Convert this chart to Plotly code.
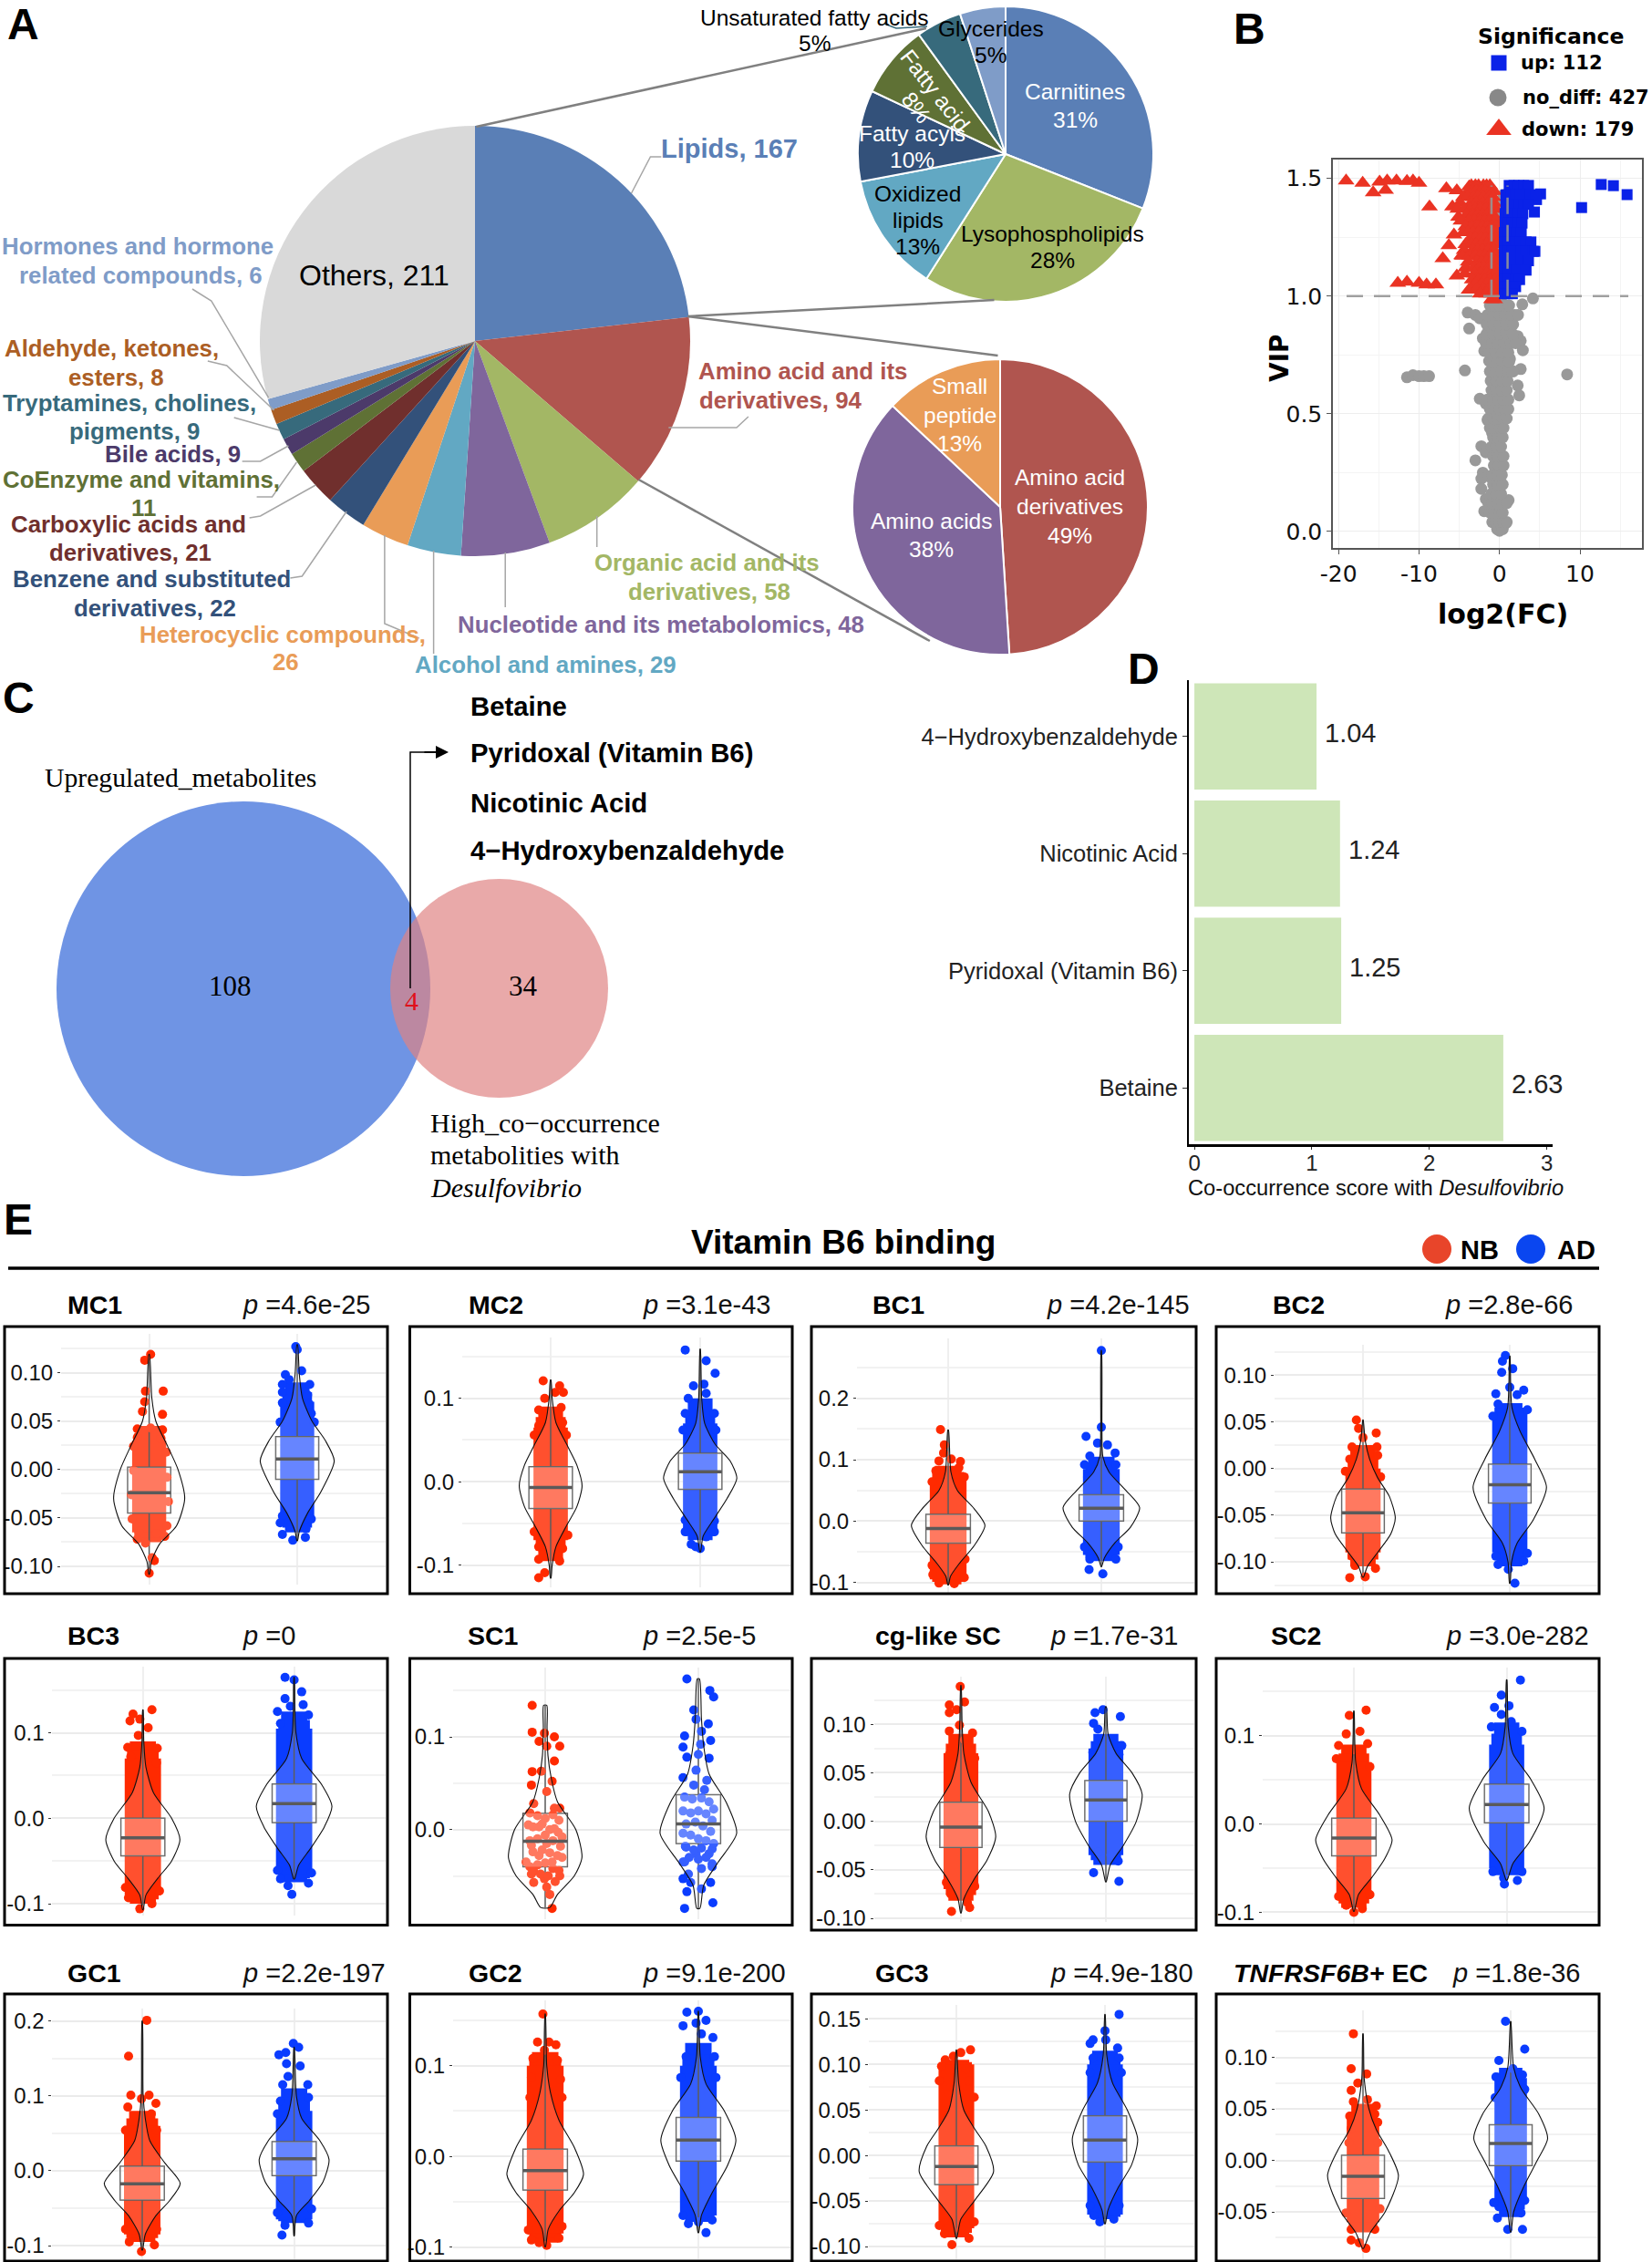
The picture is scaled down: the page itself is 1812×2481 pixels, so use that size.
import plotly.graph_objects as go

W, H = 1812, 2481
SANS = "Liberation Sans"
SERIF = "Liberation Serif"
DEJA = "DejaVu Sans"

# ---------- Panel A ----------
MAIN_LABELS = ["Lipids", "Amino acid and its derivatives", "Organic acid and its derivatives",
               "Nucleotide and its metabolomics", "Alcohol and amines", "Heterocyclic compounds",
               "Benzene and substituted derivatives", "Carboxylic acids and derivatives",
               "CoEnzyme and vitamins", "Bile acids", "Tryptamines, cholines, pigments",
               "Aldehyde, ketones, esters", "Hormones and hormone related compounds", "Others"]
MAIN_VALUES = [167, 94, 58, 48, 29, 26, 22, 21, 11, 9, 9, 8, 6, 211]
MAIN_COLORS = ["#5A7FB6", "#B0554F", "#A3B765", "#7F669C", "#62A8C3", "#E99C57", "#33517A", "#702F2D",
               "#5F7135", "#4C3A6A", "#376A7C", "#AC5E24", "#7F9CC8", "#D9D9D9"]
LIPID_LABELS = ["Carnitines", "Lysophospholipids", "Oxidized lipids", "Fatty acyls", "Fatty acid",
                "Unsaturated fatty acids", "Glycerides"]
LIPID_VALUES = [31, 28, 13, 10, 8, 5, 5]
LIPID_COLORS = ["#5A7FB6", "#A3B765", "#62A8C3", "#33517A", "#5F7135", "#376A7C", "#7F9CC8"]
AMINO_LABELS = ["Amino acid derivatives", "Amino acids", "Small peptide"]
AMINO_VALUES = [49, 38, 13]
AMINO_COLORS = ["#B0554F", "#7F669C", "#E99C57"]

# ---------- Panel B ----------
UP_POINTS = [(12.64, 1.474), (14.15, 1.469), (15.85, 1.431), (10.2, 1.376), (4.34, 1.357), (5.1, 1.434), (4.6, 1.41)]
UP_ROW_Y = [1.47, 1.43, 1.39, 1.35, 1.31, 1.27, 1.23, 1.19, 1.15, 1.11, 1.07, 1.04, 1.01]
UP_ROW_X = [[1.2, 1.8, 2.4, 3, 3.6], [.8, 1.4, 2, 2.6, 3.2, 3.8, 4.5], [.8, 1.3, 1.9, 2.5, 3, 3.6],
            [.7, 1.2, 1.7, 2.3, 2.9], [.7, 1.1, 1.6, 2.2, 2.8], [.6, 1.1, 1.6, 2.1, 2.7],
            [.6, 1, 1.5, 2, 2.6, 3.3, 3.9], [.6, 1.1, 1.6, 2.7, 3.3, 4.2, 4.4], [.6, 1.1, 1.6, 2.7, 3.6],
            [.6, 1, 1.5, 2.1, 3.3], [.6, 1, 1.5, 2, 2.5], [.6, 1, 1.6, 2], [.6, 1, 1.6]]
DOWN_POINTS = [(-19.06, 1.49), (-17, 1.48), (-15.7, 1.44), (-14.9, 1.485), (-13.96, 1.49), (-12.8, 1.49),
               (-14.15, 1.45), (-11.5, 1.488), (-10.75, 1.49), (-10, 1.48), (-8.7, 1.38), (-5.66, 1.26),
               (-6.3, 1.215), (-7.05, 1.16), (-6.6, 1.457), (-5.3, 1.448), (-3.77, 1.465), (-5.85, 1.38),
               (-5.1, 1.336), (-12.64, 1.055), (-11.5, 1.06), (-10, 1.055), (-9.06, 1.048), (-7.9, 1.048),
               (-5.3, 1.086), (-4.3, 1.095), (-3.8, 1.026), (-4.7, 1.172), (-1, .985), (-.6, .985)]
DOWN_ROW_Y = [1.47, 1.445, 1.42, 1.395, 1.37, 1.345, 1.32, 1.295, 1.27, 1.245, 1.22, 1.195, 1.17, 1.145, 1.12, 1.095, 1.07, 1.05, 1.03, 1.01]
DOWN_ROW_X = [[-3.5, -3, -2.6, -2, -1.6, -1.2], [-3.8, -3.3, -2.9, -2.3, -1.8, -1.1, -.7], [-4.5, -4, -3.2, -2.7, -2, -1.3, -.8],
              [-4.9, -3.5, -2.9, -2.1, -1.4, -.7], [-5.2, -4.3, -3.6, -3, -2.4, -1.7, -1, -.5], [-4.1, -3.3, -2.7, -2.1, -1.5, -.8],
              [-4.8, -3.8, -3.1, -2.4, -1.8, -1.2, -.5], [-4.2, -3.4, -2.7, -2.1, -1.5, -.9, -.4],
              [-4.5, -3.9, -3.3, -2.6, -2, -1.4, -.6], [-3.6, -3, -2.3, -1.7, -1.1, -.5],
              [-4.2, -3.5, -2.9, -2.3, -1.6, -1, -.4], [-4.4, -3.3, -2.7, -2.1, -1.4, -.7],
              [-4.6, -3.7, -3, -2.4, -1.8, -1.2, -.5], [-3.9, -2.8, -2.2, -1.6, -1, -.4],
              [-4.2, -3.2, -2.5, -1.9, -1.3, -.6], [-3.1, -2.3, -1.6, -1, -.5],
              [-3.4, -2.6, -1.8, -1.2, -.5], [-3, -2.2, -1.5, -.9, -.4], [-3.6, -2.8, -2, -1.3, -.6], [-2.4, -1.6, -1, -.5]]
NODIFF_POINTS = [(4.15, .99), (2.83, .965), (1.9, .92), (-3.96, .93), (-3, .92), (-2.45, .905), (-3.77, .862),
                 (-2.07, .82), (2.26, .83), (2.64, .81), (2.9, .77), (-1.9, .767), (-1.3, .724), (1.3, .733),
                 (-11.5, .655), (-10.75, .664), (-10, .66), (-9.4, .66), (-8.75, .66), (-4.3, .684), (8.4, .667),
                 (2.64, .69), (1.7, .68), (2.26, .62), (2.45, .578), (-2.45, .564), (-1.7, .543), (-1.5, .474),
                 (-.94, .42), (-2.26, .362), (-1.7, .336), (-3, .302), (-2.07, .25), (-2.26, .224), (-1.3, .233),
                 (-2.26, .181), (-1.7, .138), (1.13, .133), (-1.9, .086), (.4, .043), (-.57, .034), (.75, .034), (0, .003)]
NODIFF_ROW_Y = [.01, .04, .08, .12, .16, .2, .24, .28, .32, .36, .4, .44, .48, .52, .56, .6, .64, .68, .72, .76,
                .8, .84, .88, .92, .96, .99, 1.05, 1.1, 1.15, 1.2, 1.25, 1.3, 1.35, 1.39, 1.43]
NODIFF_ROW_X = [[0, -.3, .4], [-.9, -.5, 0, .5, .9], [-1.2, -.6, 0, .4], [-1.4, -.9, -.3, .3, .9], [-1, -.4, .2],
                [-.8, -.2, .4], [-.9, -.3, .3], [-.7, -.1, .5], [-.8, -.2, .5], [-1, -.4, .2], [-.8, -.2, .4],
                [-1.2, -.6, 0, .5], [-1.4, -.8, -.2, .4, .9], [-1.2, -.6, 0, .6, 1.1], [-1.5, -.8, -.1, .5, 1.1],
                [-1, -.4, .2, .9], [-1.1, -.4, .3, 1], [-1.2, -.5, .2, 1, 1.6], [-1, -.3, .4, 1.2],
                [-1.3, -.5, .3, 1.1], [-1.7, -.9, -.2, .6, 1.4, 2], [-1.6, -.8, 0, .8, 1.6],
                [-1.6, -.8, 0, .8, 1.7], [-1.5, -.8, 0, .7, 1.5, 2.3], [-1.2, -.6, 0, .6, 1.2], [-.2, .2],
                [0, .3], [-.1, .25], [-.2, .2], [-.3, .1], [-.2, .2], [-.2, .1], [0], [-.4], [.5]]

# ---------- Panel D ----------
D_NAMES = ["Betaine", "Pyridoxal (Vitamin B6)", "Nicotinic Acid", "4\u2212Hydroxybenzaldehyde"]
D_SCORES = [2.63, 1.25, 1.24, 1.04]
D_TEXT = ["2.63", "1.25", "1.24", "1.04"]

# ---------- Panel E ----------
E_NAMES = ["MC1", "MC2", "BC1", "BC2", "BC3", "SC1", "cg-like SC", "SC2", "GC1", "GC2", "GC3", "<i>TNFRSF6B+</i> EC"]
E_P = ["4.6e-25", "3.1e-43", "4.2e-145", "2.8e-66", "0", "2.5e-5", "1.7e-31", "3.0e-282", "2.2e-197", "9.1e-200", "4.9e-180", "1.8e-36"]
TICK2 = ["0.10", "0.05", "0.00", "-0.05", "-0.10"]
E_TICK_TEXT = [TICK2, ["0.1", "0.0", "-0.1"], ["0.2", "0.1", "0.0", "-0.1"], TICK2,
               ["0.1", "0.0", "-0.1"], ["0.1", "0.0"], ["0.15"] + TICK2, ["0.1", "0.0", "-0.1"],
               ["0.2", "0.1", "0.0", "-0.1"], ["0.1", "0.0", "-0.1"], ["0.15"] + TICK2, TICK2[:4]]

NB_Q = [(-.045, -.024, .0025), (-.032, -.007, .018), (-.036, -.012, .011), (-.069, -.0475, -.022),
        (-.044, -.023, 0), (-.04, -.0125, .0175), (-.027, -.006, .0195), (-.036, -.016, .0065),
        (-.039, -.0175, .006), (-.037, -.0155, .008), (-.032, -.012, .0105), (-.037, -.0155, .005)]
AD_Q = [(-.01, .011, .034), (-.009, .012, .034), (0, .021, .043), (-.037, -.0175, .0045),
        (-.005, .017, .04), (-.015, .006, .0375), (0, .022, .042), (.0015, .022, .045),
        (-.0066, .016, .039), (-.005, .018, .043), (-.007, .017, .0435), (-.005, .0165, .0345)]
NB_VIOLIN_Y = [
    [-.108, -.095, -.077, -.058, -.03, 0, .024, .05, .074, .119],
    [-.1155, -.1, -.078, -.053, -.03, -.005, .02, .042, .071, .1, .122],
    [-.104, -.09, -.07, -.04, -.007, .02, .05, .08, .1485],
    [-.1165, -.105, -.09, -.07, -.053, -.03, -.01, .01, .03, .052],
    [-.107, -.09, -.07, -.05, -.025, 0, .03, .06, .09, .127],
    [-.084, -.07, -.05, -.03, 0, .03, .055, .08, .11, .134],
    [-.0945, -.08, -.06, -.04, -.016, .01, .04, .07, .1, .14],
    [-.099, -.08, -.06, -.04, -.018, .01, .04, .07, .1, .128],
    [-.106, -.085, -.06, -.04, -.017, .01, .04, .07, .1, .2],
    [-.0995, -.08, -.06, -.04, -.02, .01, .04, .07, .1, .157],
    [-.091, -.07, -.05, -.018, .01, .03, .05, .08, .116],
    [-.0855, -.07, -.05, -.015, .01, .03, .05, .08, .123]]
NB_VIOLIN_W = [
    [.002, .015, .07, .185, .24, .195, .125, .045, .018, .002],
    [.002, .01, .035, .105, .175, .21, .175, .115, .035, .01, .002],
    [.002, .015, .07, .17, .24, .17, .06, .018, .002],
    [.003, .03, .1, .19, .22, .18, .1, .045, .015, .001],
    [.002, .02, .1, .19, .245, .19, .07, .02, .006, .001],
    [.03, .08, .19, .24, .2, .08, .04, .018, .012, .01],
    [.002, .02, .09, .18, .24, .19, .07, .02, .008, .001],
    [.002, .03, .12, .2, .25, .17, .05, .012, .005, .001],
    [.002, .02, .09, .18, .25, .15, .05, .02, .006, .001],
    [.002, .02, .09, .19, .25, .19, .09, .035, .01, .001],
    [.002, .03, .12, .25, .2, .12, .05, .015, .001],
    [.003, .05, .15, .24, .17, .09, .04, .008, .001]]
AD_VIOLIN_Y = [
    [-.0735, -.064, -.045, -.023, .009, .03, .05, .074, .099, .129],
    [-.084, -.065, -.045, -.02, .004, .025, .045, .07, .1, .159],
    [-.074, -.06, -.035, -.01, .022, .05, .08, .105, .15, .278],
    [-.123, -.1, -.08, -.055, -.02, .01, .04, .065, .09, .1205],
    [-.071, -.055, -.035, -.01, .014, .04, .07, .1, .13, .165],
    [-.085, -.06, -.035, -.004, .03, .06, .09, .12, .1625],
    [-.0625, -.045, -.025, 0, .028, .05, .07, .09, .118],
    [-.0635, -.045, -.02, .018, .05, .08, .11, .1635],
    [-.087, -.06, -.04, -.015, .015, .04, .07, .1, .165],
    [-.084, -.065, -.04, -.01, .018, .05, .08, .11, .16],
    [-.075, -.06, -.035, -.01, .018, .05, .08, .11, .155],
    [-.0695, -.05, -.025, 0, .021, .045, .07, .09, .135]]
AD_VIOLIN_W = [
    [.002, .014, .07, .16, .25, .19, .1, .035, .014, .002],
    [.002, .02, .09, .18, .245, .2, .1, .03, .01, .001],
    [.002, .02, .09, .19, .25, .16, .05, .01, .004, .001],
    [.002, .012, .05, .16, .25, .17, .07, .015, .006, .001],
    [.003, .03, .11, .2, .25, .18, .05, .012, .005, .001],
    [.01, .035, .13, .25, .18, .07, .035, .02, .007],
    [.002, .03, .12, .21, .25, .18, .07, .015, .003],
    [.003, .04, .15, .245, .16, .04, .01, .001],
    [.001, .015, .1, .19, .23, .17, .05, .015, .001],
    [.002, .02, .09, .19, .245, .17, .05, .012, .001],
    [.002, .02, .09, .18, .22, .15, .05, .012, .001],
    [.002, .02, .09, .18, .25, .19, .07, .02, .001]]
NB_BAND = [(-.065, .03), (-.07, .065), (-.095, .07), (-.09, 0), (-.09, .07), (-.05, -.05),
           (-.07, .07), (-.085, .07), (-.085, .06), (-.085, .1), (-.08, .1), (-.06, .04)]
AD_BAND = [(-.055, .07), (-.06, .07), (-.055, .085), (-.09, .06), (-.065, .105), (-.03, -.03),
           (-.035, .075), (-.05, .09), (-.065, .08), (-.065, .1), (-.065, .1), (-.04, .08)]
NB_TAPER = [(-.075, .045), (-.095, .09), (-.103, .09), (-.105, .025), (-.1, .09), (-.05, -.05),
            (-.082, .09), (-.095, .09), (-.095, .08), (-.095, .115), (-.09, .105), (-.07, .055)]
AD_TAPER = [(-.065, .09), (-.07, .1), (-.065, .105), (-.105, .07), (-.075, .125), (-.03, -.03),
            (-.045, .09), (-.058, .115), (-.07, .11), (-.072, .125), (-.07, .115), (-.055, .09)]
BAND_WIDTH = [.23, .23, .24, .24, .24, .22, .24, .23, .24, .24, .24, .22]

MC1_NB = [(.01, .119), (-.03, .113), (-.025, .081), (.095, .081), (-.03, .07), (-.045, .06), (.09, .057), (-.08, .042), (.01, .043), (.09, .041), (.08, .032), (-.08, .033), (.035, -.094), (0, -.107), (.02, -.091), (-.08, -.072), (.105, -.069), (-.025, -.076), (-.105, .024), (.115, .018), (-.105, -.001), (.12, -.008), (-.12, -.026), (.13, -.033), (-.115, -.051), (.12, -.058), (-.07, -.064), (.05, -.066)]
MC1_AD = [(-.01, .127), (0, .124), (.03, .102), (-.08, .098), (-.055, .093), (-.1, .088), (.085, .088), (-.1, .08), (.07, .077), (-.1, .069), (.08, .068), (.095, .058), (-.115, .049), (.115, .049), (-.1, -.048), (.095, -.051), (-.1, -.067), (.055, -.07), (-.03, -.073), (.06, -.061), (-.115, -.055)]
MC2_NB = [(-.05, .121), (.06, .115), (.085, .107), (.03, .107), (-.04, .1), (-.08, .086), (.07, .089), (-.08, .067), (.08, .071), (-.11, .056), (.105, .056), (-.08, -.078), (.08, -.08), (-.08, -.093), (.06, -.095), (-.04, -.109), (-.08, -.115), (-.11, -.06), (.115, -.064)]
MC2_AD = [(-.1, .158), (.04, .145), (.1, .13), (-.045, .115), (.025, .117), (-.08, .1), (.04, .106), (.095, .082), (-.1, .082), (-.115, .062), (.105, .062), (-.1, -.046), (.095, -.047), (-.1, -.06), (.095, -.06), (.04, -.066), (-.06, -.075), (0, -.08), (-.03, -.078)]
BC1_NB = [(-.05, .149), (-.025, .124), (-.03, .111), (.02, .101), (-.06, .098), (.08, .097), (.07, .087), (-.08, .082), (.105, .072), (-.105, .064), (-.06, -.101), (.04, -.102), (.105, -.092), (-.1, -.087), (-.105, -.072), (.11, -.062)]
BC1_AD = [(0, .278), (0, .153), (-.1, .138), (-.025, .127), (.04, .124), (.09, .111), (-.075, .106), (-.11, .092), (.095, .092), (-.09, .072), (-.08, -.079), (.01, -.086), (-.075, -.062), (.095, -.062), (-.11, -.042), (.11, -.042)]
BC2_NB = [(-.045, .052), (-.03, .043), (.09, .038), (0, .033), (-.075, .023), (.095, .023), (-.09, .01), (.1, .014), (-.12, -.003), (.12, -.009), (-.09, -.117), (.015, -.116), (.085, -.107), (-.055, -.104), (-.075, -.094)]
BC2_AD = [(-.03, .121), (-.05, .115), (.02, .107), (-.055, .103), (0, .087), (.095, .084), (-.095, .08), (.05, .079), (-.08, .069), (.12, .063), (-.115, .056), (-.08, -.103), (.095, -.099), (-.01, -.108), (.035, -.123), (-.095, -.094), (.12, -.091)]
BC3_NB = [(.06, .127), (-.065, .122), (-.085, .114), (-.02, .116), (.035, .106), (-.03, .097), (-.1, .083), (.095, .082), (-.08, .072), (.09, .065), (-.02, -.106), (.06, -.1), (-.095, -.093), (.11, -.085), (-.115, -.081)]
BC3_AD = [(-.06, .165), (0, .162), (.05, .148), (-.06, .14), (-.11, .125), (.095, .121), (-.025, .131), (.06, .133), (-.09, .111), (-.015, -.089), (-.04, -.079), (.095, -.076), (-.09, -.071), (.115, -.064), (-.11, -.061)]
SC1_NB = [(-.085, .134), (-.085, .105), (-.005, .104), (.06, .1), (-.04, .095), (.01, .09), (.095, .09), (.06, .074), (-.085, .0625), (-.025, .063), (-.09, .048), (.045, .052), (.01, .041), (-.075, .028), (.06, .023), (.095, .023), (-.11, .005), (-.04, .003), (.06, .001), (.11, -.008), (-.09, -.017), (.01, -.015), (-.125, -.035), (-.04, -.028), (.045, -.035), (.11, -.03), (-.09, -.048), (-.005, -.053), (.095, -.05), (.03, -.07), (.045, -.085), (.01, -.062), (-.075, -.057),
          (-.1, .018), (-.05, .015), (0, .012), (.05, .016), (.09, .01), (-.08, .003), (-.02, .006), (.03, 0), (.085, -.003), (-.1, -.012), (-.05, -.01), (0, -.006), (.05, -.012), (.1, -.018), (-.08, -.024), (-.02, -.022), (.03, -.025), (.08, -.028), (-.1, -.04), (-.05, -.038), (0, -.036), (.05, -.042), (.09, -.044), (-.075, -.045), (-.03, -.048), (.02, -.05), (.065, -.056)]
SC1_AD = [(-.075, .1625), (.075, .15), (.1, .143), (-.03, .129), (-.015, .119), (.065, .114), (-.09, .101), (.02, .106), (.08, .096), (-.1, .089), (.015, .092), (-.075, .078), (.07, .077), (0, .081), (-.015, .064), (-.1, .056), (.055, .053), (-.03, .048), (.04, .043), (-.08, -.019), (.09, -.021), (-.015, -.026), (-.1, -.035), (.09, -.037), (.02, -.042), (-.065, -.048), (-.1, -.053), (.08, -.057), (-.05, -.057), (.02, -.064), (-.075, -.067), (-.09, -.085), (.095, -.079),
          (-.09, .035), (-.04, .033), (.02, .034), (.07, .03), (.1, .022), (-.1, .02), (-.05, .018), (0, .02), (.05, .017), (.09, .01), (-.08, .006), (-.02, .008), (.03, .004), (.08, -.002), (-.1, -.004), (-.05, -.006), (0, -.01), (.05, -.012), (.1, -.015), (-.085, -.018), (-.03, -.022), (.02, -.02), (.07, -.026), (-.06, -.03), (0, -.032), (.05, -.03), (-.09, -.035), (.09, -.04)]
CG_NB = [(-.005, .139), (-.08, .12), (.025, .123), (-.03, .115), (-.08, .112), (-.01, .099), (-.08, .093), (.08, .091), (.025, .084), (-.08, .069), (.095, .065), (-.065, -.093), (.06, -.089), (-.07, -.075), (.095, -.067), (-.1, -.063), (.045, -.084)]
CG_AD = [(-.02, .115), (-.075, .112), (.1, .108), (-.085, .101), (-.055, .095), (.11, .078), (-.09, .071), (.09, .069), (-.085, -.053), (.09, -.062), (.085, -.041), (-.055, -.032), (.035, -.035)]
SC2_NB = [(.08, .129), (-.03, .123), (.04, .105), (-.05, .102), (-.1, .089), (.09, .091), (0, .084), (-.115, .074), (.105, .065), (0, -.1), (.055, -.096), (-.05, -.092), (-.1, -.082), (.105, -.08)]
SC2_AD = [(.09, .163), (-.035, .146), (.015, .134), (-.08, .132), (-.035, .124), (-.1, .11), (.1, .105), (.03, .116), (-.015, -.068), (.07, -.064), (-.09, -.054), (.1, -.054), (-.02, -.061)]
GC1_NB = [(.03, .201), (-.09, .153), (-.075, .101), (.045, .101), (-.005, .096), (.09, .09), (-.095, .085), (.06, .076), (-.11, .054), (.095, .054), (-.005, -.108), (-.085, -.095), (.08, -.099), (-.11, -.078), (.095, -.078)]
GC1_AD = [(-.005, .17), (.03, .165), (-.1, .155), (-.055, .158), (-.05, .143), (.04, .14), (-.04, .126), (.09, .115), (-.075, .115), (-.09, .093), (.095, .098), (-.11, .076), (-.08, -.086), (-.06, -.073), (.095, -.07), (-.11, -.056), (.115, -.051)]
GC2_NB = [(-.015, .157), (-.05, .126), (.025, .126), (.07, .123), (-.08, .108), (.08, .106), (-.005, .117), (-.09, .087), (.1, .085), (-.1, .065), (.11, .065), (.01, -.098), (-.09, -.092), (-.04, -.095), (.09, -.09), (-.11, -.081), (.11, -.077)]
GC2_AD = [(-.075, .159), (0, .16), (.05, .15), (-.1, .144), (-.015, .147), (.095, .131), (.02, .135), (-.08, .11), (.105, .11), (-.115, .087), (.115, .087), (.05, -.084), (0, -.072), (-.065, -.074), (.09, -.07), (-.1, -.065)]
GC3_NB = [(.095, .116), (.03, .113), (-.02, .109), (-.075, .105), (-.1, .098), (.065, .095), (.085, .082), (-.115, .082), (.12, .064), (-.03, -.098), (.085, -.091), (-.08, -.086), (.03, -.082), (-.115, -.077), (.12, -.073)]
GC3_AD = [(.095, .155), (0, .137), (-.08, .127), (.005, .127), (.085, .118), (-.1, .123), (-.08, .107), (.095, .107), (-.1, .091), (.11, .091), (-.035, -.073), (.06, -.07), (-.075, -.066), (-.1, -.055), (.095, -.055)]
TNF_NB = [(-.065, .123), (-.08, .089), (.025, .084), (-.035, .075), (-.08, .068), (.03, .059), (.09, .053), (-.065, .057), (.08, .045), (-.09, .043), (-.08, .031), (.1, .037), (-.095, .017), (.1, .017), (.02, -.0855), (-.08, -.0775), (-.025, -.08), (.08, -.067), (-.08, -.067), (-.115, -.051), (.115, -.047)]
TNF_AD = [(-.035, .135), (.095, .108), (-.08, .097), (.015, .089), (-.1, .081), (.08, .083), (.095, .069), (-.105, .061), (.08, -.067), (-.02, -.067), (-.09, -.056), (.07, -.051), (-.08, -.045), (.095, -.039), (-.115, -.041)]
NB_DOTS = [MC1_NB, MC2_NB, BC1_NB, BC2_NB, BC3_NB, SC1_NB, CG_NB, SC2_NB, GC1_NB, GC2_NB, GC3_NB, TNF_NB]
AD_DOTS = [MC1_AD, MC2_AD, BC1_AD, BC2_AD, BC3_AD, SC1_AD, CG_AD, SC2_AD, GC1_AD, GC2_AD, GC3_AD, TNF_AD]

# layout of panel E, in picture pixels (style, not data)
E_FRAME = [(5, 425, 1455, 1748), (449.5, 869, 1455, 1748), (890, 1312, 1455, 1748), (1334, 1754, 1455, 1748),
           (5, 425, 1819, 2111.5), (449.5, 869, 1819, 2111.5), (890, 1312, 1819, 2117), (1334, 1754, 1819, 2111.5),
           (5, 425, 2187, 2480), (449.5, 869, 2187, 2480), (890, 1312, 2187, 2480), (1334, 1754, 2187, 2480)]
E_INNER_LEFT = [67, 507, 940, 1398, 57.4, 497, 958.5, 1385, 57.4, 497, 953, 1399]
E_NB_X = [163.6, 604, 1040, 1495, 156.7, 598, 1054, 1485, 156, 598, 1049, 1495]
E_AD_X = [326, 768, 1208, 1656, 322.6, 766, 1213, 1652.6, 322.6, 766, 1212, 1657]
E_GRID_Y = [(1463, 1738), (1467, 1741), (1468, 1747), (1475, 1746), (1828, 2101), (1829, 2105), (1839, 2108), (1829, 2110),
            (2203, 2478), (2194, 2478), (2199, 2477.5), (2205, 2477.5)]
E_TICK_PX = [(1505.7, 1718), (1533.7, 1716.7), (1533.7, 1735.7), (1508.3, 1713), (1900.6, 2088), (1905, 2006.7),
             (1838, 2104), (1903.8, 2097.4), (2216.7, 2463), (2265.7, 2464.8), (2214.4, 2464), (2256.6, 2426)]
E_TITLE_X = [72, 512, 954.5, 1394, 72, 511, 958, 1392, 72, 512, 958, 1350.5]
E_P_X = [264, 703, 1146, 1583, 264, 703, 1150, 1584, 264, 703, 1150, 1591]
E_TITLE_Y = [1431] * 4 + [1794] * 4 + [2164] * 4

A_SCALE = .995  # horizontal factor of the panel A placements


def X(p):
    return p / W


def Y(p):
    return 1 - p / H


fig = go.Figure()
annotations, shapes = [], []


def text(s, x, y, size=24, color="#000", font=SANS, anchor="center", angle=0):
    annotations.append(dict(text=s, x=x, y=y, xref="x3", yref="y3", showarrow=False,
                            xanchor=anchor, yanchor="middle", textangle=angle,
                            font=dict(size=size, color=color, family=font)))


def polyline(points, color="#A6A6A6", width=1.5):
    path = "M " + " L ".join(f"{X(a):.5f},{Y(b):.5f}" for a, b in points)
    shapes.append(dict(type="path", path=path, xref="paper", yref="paper",
                       line=dict(color=color, width=width)))


def add_pie(labels, values, colors, cx, cy, r, line_w):
    fig.add_trace(go.Pie(labels=labels, values=values, sort=False, direction="clockwise", rotation=0,
                         textinfo="none", hoverinfo="label+value", showlegend=False,
                         marker=dict(colors=colors, line=dict(color="white", width=line_w)),
                         domain=dict(x=[X(cx - r), X(cx + r)], y=[Y(cy + r), Y(cy - r)])))


add_pie(MAIN_LABELS, MAIN_VALUES, MAIN_COLORS, 521, 374, 236, 0)
add_pie(LIPID_LABELS, LIPID_VALUES, LIPID_COLORS, 1103, 169, 162, 2)
add_pie(AMINO_LABELS, AMINO_VALUES, AMINO_COLORS, 1097, 556, 162, 2)

for pts in [[(696, 212), (717, 172), (729, 172)], [(737, 469), (812, 469), (825, 457)], [(658, 566), (658, 600)],
            [(557, 606), (557, 666)], [(478, 604), (478, 717)], [(424, 587), (424, 684), (462, 700)],
            [(382, 561), (333, 632), (320, 634)], [(348, 532), (287, 566), (275, 568)],
            [(327, 507), (300, 545), (283, 545)], [(318, 489), (287, 506), (267, 506)],
            [(308, 472), (258, 458)], [(302, 450), (250, 401), (229, 396)], [(296, 436), (233, 330), (212, 317)]]:
    polyline([(a * A_SCALE, b) for a, b in pts])
for pts in [[(525, 139), (1021, 31)], [(758, 347), (1096, 329)], [(758, 347), (1100, 390)], [(704, 526), (1025, 703)]]:
    polyline([(a * A_SCALE, b) for a, b in pts], "#808080", 2.5)
polyline([(970, 26), (983, 31), (1017, 29)], "#376A7C", 1.5)

B = "<b>%s</b>"
for s, x, y, c, size in [
    ("Lipids, 167", 804, 163, MAIN_COLORS[0], 29),
    ("Amino acid and its", 885, 407, MAIN_COLORS[1], 25.8), ("derivatives, 94", 860, 439, MAIN_COLORS[1], 25.8),
    ("Organic acid and its", 779, 617, MAIN_COLORS[2], 25.8), ("derivatives, 58", 782, 649, MAIN_COLORS[2], 25.8),
    ("Nucleotide and its metabolomics, 48", 729, 685, MAIN_COLORS[3], 25.8),
    ("Alcohol and amines, 29", 602, 729, MAIN_COLORS[4], 25.8),
    ("Heterocyclic compounds,", 312, 696, MAIN_COLORS[5], 25.8), ("26", 315, 726, MAIN_COLORS[5], 25.8),
    ("Benzene and substituted", 167, 635, MAIN_COLORS[6], 25.8), ("derivatives, 22", 171, 667, MAIN_COLORS[6], 25.8),
    ("Carboxylic acids and", 142, 575, MAIN_COLORS[7], 25.8), ("derivatives, 21", 144, 606, MAIN_COLORS[7], 25.8),
    ("CoEnzyme and vitamins,", 156, 526, MAIN_COLORS[8], 25.8), ("11", 158, 557, MAIN_COLORS[8], 25.8),
    ("Bile acids, 9", 190, 498, MAIN_COLORS[9], 25.8),
    ("Tryptamines, cholines,", 143, 442, MAIN_COLORS[10], 25.8), ("pigments, 9", 148, 473, MAIN_COLORS[10], 25.8),
    ("Aldehyde, ketones,", 123, 382, MAIN_COLORS[11], 25.8), ("esters, 8", 128, 414, MAIN_COLORS[11], 25.8),
    ("Hormones and hormone", 152, 270, MAIN_COLORS[12], 25.8), ("related compounds, 6", 155, 302, MAIN_COLORS[12], 25.8),
]:
    text(B % s, x * A_SCALE, y, size, c)
text("Others, 211", 410, 302, 32)
for s, x, y, c in [
    ("Carnitines", 1185, 100, "white"), ("31%", 1185, 131, "white"),
    ("Lysophospholipids", 1160, 256, "black"), ("28%", 1160, 285, "black"),
    ("Oxidized", 1012, 212, "black"), ("lipids", 1012, 241, "black"), ("13%", 1012, 270, "black"),
    ("Fatty acyls", 1006, 146, "white"), ("10%", 1006, 175, "white"),
    ("Unsaturated fatty acids", 898, 19, "black"), ("5%", 898, 47, "black"),
    ("Glycerides", 1092, 31, "black"), ("5%", 1092, 60, "black"),
    ("Amino acid", 1179, 523, "white"), ("derivatives", 1179, 555, "white"), ("49%", 1179, 587, "white"),
    ("Amino acids", 1027, 571, "white"), ("38%", 1027, 602, "white"),
    ("Small", 1058, 423, "white"), ("peptide", 1058, 455, "white"), ("13%", 1058, 486, "white"),
]:
    text(s, x * A_SCALE, y, 24.5, c)
text("Fatty acid", 1026, 99, 24.5, "white", angle=52)
text("8%", 1005, 117, 24.5, "white", angle=52)

for s, x, y in [("A", 25, 26), ("B", 1370, 31), ("C", 20, 765), ("D", 1254, 733), ("E", 20, 1337)]:
    text(B % s, x, y, 48)


# ---------- Panel B drawing ----------
def expand(points, rows_y, rows_x):
    xs = [p[0] for p in points]
    ys = [p[1] for p in points]
    for y, row in zip(rows_y, rows_x):
        xs += row
        ys += [y] * len(row)
    return xs, ys


def axis_domain(a, b, total, flip=False):
    return [1 - b / total, 1 - a / total] if flip else [a / total, b / total]


AXB = dict(xaxis="x2", yaxis="y2")
up_x, up_y = expand(UP_POINTS, UP_ROW_Y, UP_ROW_X)
nd_x, nd_y = expand(NODIFF_POINTS, NODIFF_ROW_Y, NODIFF_ROW_X)
dn_x, dn_y = expand(DOWN_POINTS, DOWN_ROW_Y, DOWN_ROW_X)
fig.add_trace(go.Scatter(x=nd_x, y=nd_y, mode="markers", name="no_diff: 427", showlegend=False,
                         marker=dict(symbol="circle", size=13, color="#999999"), **AXB))
fig.add_trace(go.Scatter(x=dn_x, y=dn_y, mode="markers", name="down: 179", showlegend=False,
                         marker=dict(symbol="triangle-up", size=16, color="#EA3323"), **AXB))
fig.add_trace(go.Scatter(x=up_x, y=up_y, mode="markers", name="up: 112", showlegend=False,
                         marker=dict(symbol="square", size=12, color="#0A22E8"), **AXB))
for lx, ly in [([-19, 16], [1, 1]), ([-1, -1], [1, 1.47]), ([1, 1], [1, 1.47])]:
    fig.add_trace(go.Scatter(x=lx, y=ly, mode="lines", showlegend=False, hoverinfo="skip",
                             line=dict(color="rgba(150,150,150,0.9)", width=2.5, dash="18px,12px"), **AXB))
tick_b = dict(family=DEJA, size=25, color="#111")
grid_b = "#EDEDED"
layout_axes = {
    "xaxis2": dict(domain=axis_domain(1462, 1801, W), range=[-20.7, 17.7], anchor="y2", tickvals=[-20, -10, 0, 10],
                   ticktext=["-20", "-10", "0", "10"], showline=True, mirror=True, linecolor="#555", linewidth=1.5,
                   ticks="outside", ticklen=5, tickcolor="#555", tickfont=tick_b, gridcolor=grid_b, zeroline=False,
                   minor=dict(showgrid=True, dtick=5, gridcolor="#F4F4F4")),
    "yaxis2": dict(domain=axis_domain(175, 601, H, True), range=[-.07, 1.58], anchor="x2", tickvals=[0, .5, 1, 1.5],
                   ticktext=["0.0", "0.5", "1.0", "1.5"], showline=True, mirror=True, linecolor="#555", linewidth=1.5,
                   ticks="outside", ticklen=5, tickcolor="#555", tickfont=tick_b, gridcolor=grid_b, zeroline=False,
                   minor=dict(showgrid=True, dtick=.25, gridcolor="#F4F4F4")),
}
text(B % "VIP", 1403, 393, 28, font=DEJA, angle=-90)
text(B % "log2(FC)", 1648, 673, 30, font=DEJA)
text(B % "Significance", 1619, 40, 23.5, font=DEJA, anchor="left")
text(B % "up: 112", 1666, 69, 21, font=DEJA, anchor="left")
text(B % "no_diff: 427", 1668, 107, 21, font=DEJA, anchor="left")
text(B % "down: 179", 1667, 142, 21, font=DEJA, anchor="left")

# overlay axis in picture pixels for legend swatches and text placement
AXO = dict(xaxis="x3", yaxis="y3")
layout_axes["xaxis3"] = dict(domain=[0, 1], range=[0, W], visible=False, anchor="y3", fixedrange=True)
layout_axes["yaxis3"] = dict(domain=[0, 1], range=[H, 0], visible=False, anchor="x3", fixedrange=True)
for sx, sy, sym, col, size in [(1644, 69, "square", "#0A22E8", 17), (1643, 107, "circle", "#888888", 19),
                               (1644, 142, "triangle-up", "#EA3323", 24), (1576, 1370, "circle", "#E8452A", 32),
                               (1679, 1370, "circle", "#0A46F0", 32)]:
    fig.add_trace(go.Scatter(x=[sx], y=[sy], mode="markers", showlegend=False, hoverinfo="skip",
                             marker=dict(symbol=sym, size=size, color=col, line=dict(width=0)), **AXO))

# ---------- Panel C ----------
shapes.append(dict(type="circle", xref="paper", yref="paper", x0=X(62), x1=X(472), y0=Y(1290), y1=Y(879),
                   fillcolor="rgb(111,148,228)", line=dict(width=0), layer="below"))
shapes.append(dict(type="circle", xref="paper", yref="paper", x0=X(428), x1=X(667), y0=Y(1204), y1=Y(964),
                   fillcolor="rgb(223,130,130)", opacity=0.69, line=dict(width=0), layer="below"))
polyline([(450, 1084), (450, 825), (488, 825)], "#000", 1.5)
annotations.append(dict(x=492, y=825, ax=-28, ay=0, xref="x3", yref="y3", axref="pixel", ayref="pixel",
                        text="", showarrow=True, arrowhead=2, arrowsize=1.4, arrowwidth=2, arrowcolor="#000"))
text("108", 252, 1081, 31, font=SERIF)
text("34", 574, 1081, 31, font=SERIF)
text("4", 451, 1097, 30, "#E0101A", font=SERIF)
text("Upregulated_metabolites", 47, 853, 29.7, font=SERIF, anchor="left")
text("High_co\u2212occurrence", 470, 1231, 30, font=SERIF, anchor="left")
text("metabolities with", 470, 1266, 30, font=SERIF, anchor="left")
text("<i>Desulfovibrio</i>", 470, 1302, 30, font=SERIF, anchor="left")
for s, y in [("Betaine", 774), ("Pyridoxal (Vitamin B6)", 825), ("Nicotinic Acid", 880), ("4\u2212Hydroxybenzaldehyde", 932)]:
    text(B % s, 514, y, 29.3, anchor="left")

# ---------- Panel D ----------
fig.add_trace(go.Bar(x=D_SCORES, y=[0, 1, 2, 3], orientation="h", width=.906, marker=dict(color="#CEE6B8", line=dict(width=0)),
                     showlegend=False, xaxis="x4", yaxis="y4"))
for value, row, label in zip(D_SCORES, [0, 1, 2, 3], D_TEXT):
    annotations.append(dict(text=label, x=value, y=row, xref="x4", yref="y4", showarrow=False, xanchor="left",
                            yanchor="middle", xshift=7, yshift=4, font=dict(size=29, family=SANS, color="#222")))
layout_axes["xaxis4"] = dict(domain=axis_domain(1304, 1703, W), range=[-.047, 3.05], anchor="y4", showgrid=False, zeroline=False,
                             showline=True, linecolor="#000", linewidth=3, ticks="outside", ticklen=3, tickcolor="#333",
                             ticklabelstandoff=-6, tickvals=[0, 1, 2, 3], tickfont=dict(size=24, family=SANS, color="#222"))
layout_axes["yaxis4"] = dict(domain=axis_domain(746, 1255, H, True), range=[-.48, 3.48], anchor="x4", showgrid=False, zeroline=False,
                             showline=True, linecolor="#000", linewidth=2, ticks="outside", ticklen=5, tickcolor="#333",
                             tickvals=[0, 1, 2, 3], ticktext=D_NAMES, tickfont=dict(size=25.5, family=SANS, color="#222"))
text("Co-occurrence score with <i>Desulfovibrio</i>", 1509, 1303, 23.7, "#111")

# ---------- Panel E ----------
text(B % "Vitamin B6 binding", 925, 1362, 37)
text(B % "NB", 1600, 1371, 29, anchor="left")
text(B % "AD", 1706, 1371, 29, anchor="left")
polyline([(9, 1391), (1754, 1391)], "#000", 3.5)
NB_RED, AD_BLUE = "#FF2A00", "#0A3CFF"
for i, name in enumerate(E_NAMES):
    n = i + 5
    ax = dict(xaxis=f"x{n}", yaxis=f"y{n}")
    left, right, top, bottom = E_FRAME[i]
    shapes.append(dict(type="rect", xref="paper", yref="paper", x0=X(left), x1=X(right), y0=Y(bottom), y1=Y(top),
                       line=dict(color="#000", width=3)))
    text(B % name, E_TITLE_X[i], E_TITLE_Y[i], 28.5, anchor="left")
    text(f"<i>p</i> ={E_P[i]}", E_P_X[i], E_TITLE_Y[i], 29, "#111", anchor="left")
    unit = E_AD_X[i] - E_NB_X[i]
    il, ir = E_INNER_LEFT[i], right - 2
    x_range = [1 - (E_NB_X[i] - il) / unit, 2 + (ir - E_AD_X[i]) / unit]
    ticks = [float(t) for t in E_TICK_TEXT[i]]
    v1, v2 = ticks[0], ticks[-1]
    p1, p2 = E_TICK_PX[i]
    per_px = (v1 - v2) / (p2 - p1)
    gt, gb = E_GRID_Y[i]
    y_range = [v2 - (gb - p2) * per_px, v1 + (p1 - gt) * per_px]
    major = abs(ticks[0] - ticks[1])
    layout_axes[f"xaxis{n}"] = dict(domain=axis_domain(il, ir, W), range=x_range, anchor=f"y{n}", tickvals=[1, 2],
                                    showticklabels=False, ticks="", showgrid=True, gridcolor="#EFEFEF", gridwidth=1.5, zeroline=False)
    layout_axes[f"yaxis{n}"] = dict(domain=axis_domain(gt, gb, H, True), range=y_range, anchor=f"x{n}", tickvals=ticks,
                                    ticktext=E_TICK_TEXT[i], ticks="outside", ticklen=3, tickcolor="#333", showgrid=True,
                                    gridcolor="#EBEBEB", gridwidth=2, zeroline=False,
                                    tickfont=dict(size=24, family=SANS, color="#111"),
                                    minor=dict(showgrid=True, tick0=0, dtick=major / 2, gridcolor="#F2F2F2", gridwidth=1.5))
    for blend, factor in [(1, .72), (.5, .87), (0, 1)]:
        base_nb = NB_BAND[i][0] + blend * (NB_TAPER[i][0] - NB_BAND[i][0])
        top_nb = NB_BAND[i][1] + blend * (NB_TAPER[i][1] - NB_BAND[i][1])
        base_ad = AD_BAND[i][0] + blend * (AD_TAPER[i][0] - AD_BAND[i][0])
        top_ad = AD_BAND[i][1] + blend * (AD_TAPER[i][1] - AD_BAND[i][1])
        fig.add_trace(go.Bar(x=[1, 2], base=[base_nb, base_ad], y=[top_nb - base_nb, top_ad - base_ad],
                             width=BAND_WIDTH[i] * factor, marker=dict(color=[NB_RED, AD_BLUE], line=dict(width=0)),
                             showlegend=False, hoverinfo="skip", **ax))
    for pos, color, dots, q, vy, vw in [(1, NB_RED, NB_DOTS[i], NB_Q[i], NB_VIOLIN_Y[i], NB_VIOLIN_W[i]),
                                        (2, AD_BLUE, AD_DOTS[i], AD_Q[i], AD_VIOLIN_Y[i], AD_VIOLIN_W[i])]:
        fig.add_trace(go.Scatter(x=[pos + d[0] for d in dots], y=[d[1] for d in dots], mode="markers", showlegend=False,
                                 marker=dict(size=10, color=color, line=dict(width=0)), cliponaxis=False, **ax))
        fig.add_trace(go.Box(x=[pos], q1=[q[0]], median=[q[1]], q3=[q[2]], lowerfence=[vy[0]], upperfence=[vy[-1]],
                             width=.29, whiskerwidth=0, fillcolor="rgba(0,0,0,0)", line=dict(color="#3A3A3A", width=1.5),
                             boxpoints=False, showlegend=False, **ax))
        fig.add_trace(go.Scatter(x=[pos + w for w in vw] + [pos - w for w in reversed(vw)] + [pos + vw[0]],
                                 y=vy + list(reversed(vy)) + [vy[0]], mode="lines", fill="toself", showlegend=False,
                                 fillcolor="rgba(255,255,255,0.18)", hoverinfo="skip",
                                 line=dict(color="#111", width=1.1, shape="spline", smoothing=.7), **ax))
        fig.add_trace(go.Scatter(x=[pos - .145, pos + .145, pos + .145, pos - .145, pos - .145],
                                 y=[q[0], q[0], q[2], q[2], q[0]], mode="lines", fill="toself", showlegend=False,
                                 fillcolor="rgba(255,255,255,0.24)", hoverinfo="skip", line=dict(width=0), **ax))
        fig.add_trace(go.Scatter(x=[pos - .145, pos + .145], y=[q[1], q[1]], mode="lines", showlegend=False,
                                 hoverinfo="skip", line=dict(color="#5A5A5A", width=3.5), **ax))

fig.update_layout(width=W, height=H, autosize=False, margin=dict(l=0, r=0, t=0, b=0, pad=0, autoexpand=False),
                  paper_bgcolor="white", plot_bgcolor="rgba(0,0,0,0)", showlegend=False,
                  barmode="overlay", boxmode="overlay", annotations=annotations, shapes=shapes,
                  font=dict(family=SANS), **layout_axes)
fig.write_html("out.html", config={"displayModeBar": False},
               post_script="document.body.style.margin='0';document.documentElement.style.overflow='hidden';")
